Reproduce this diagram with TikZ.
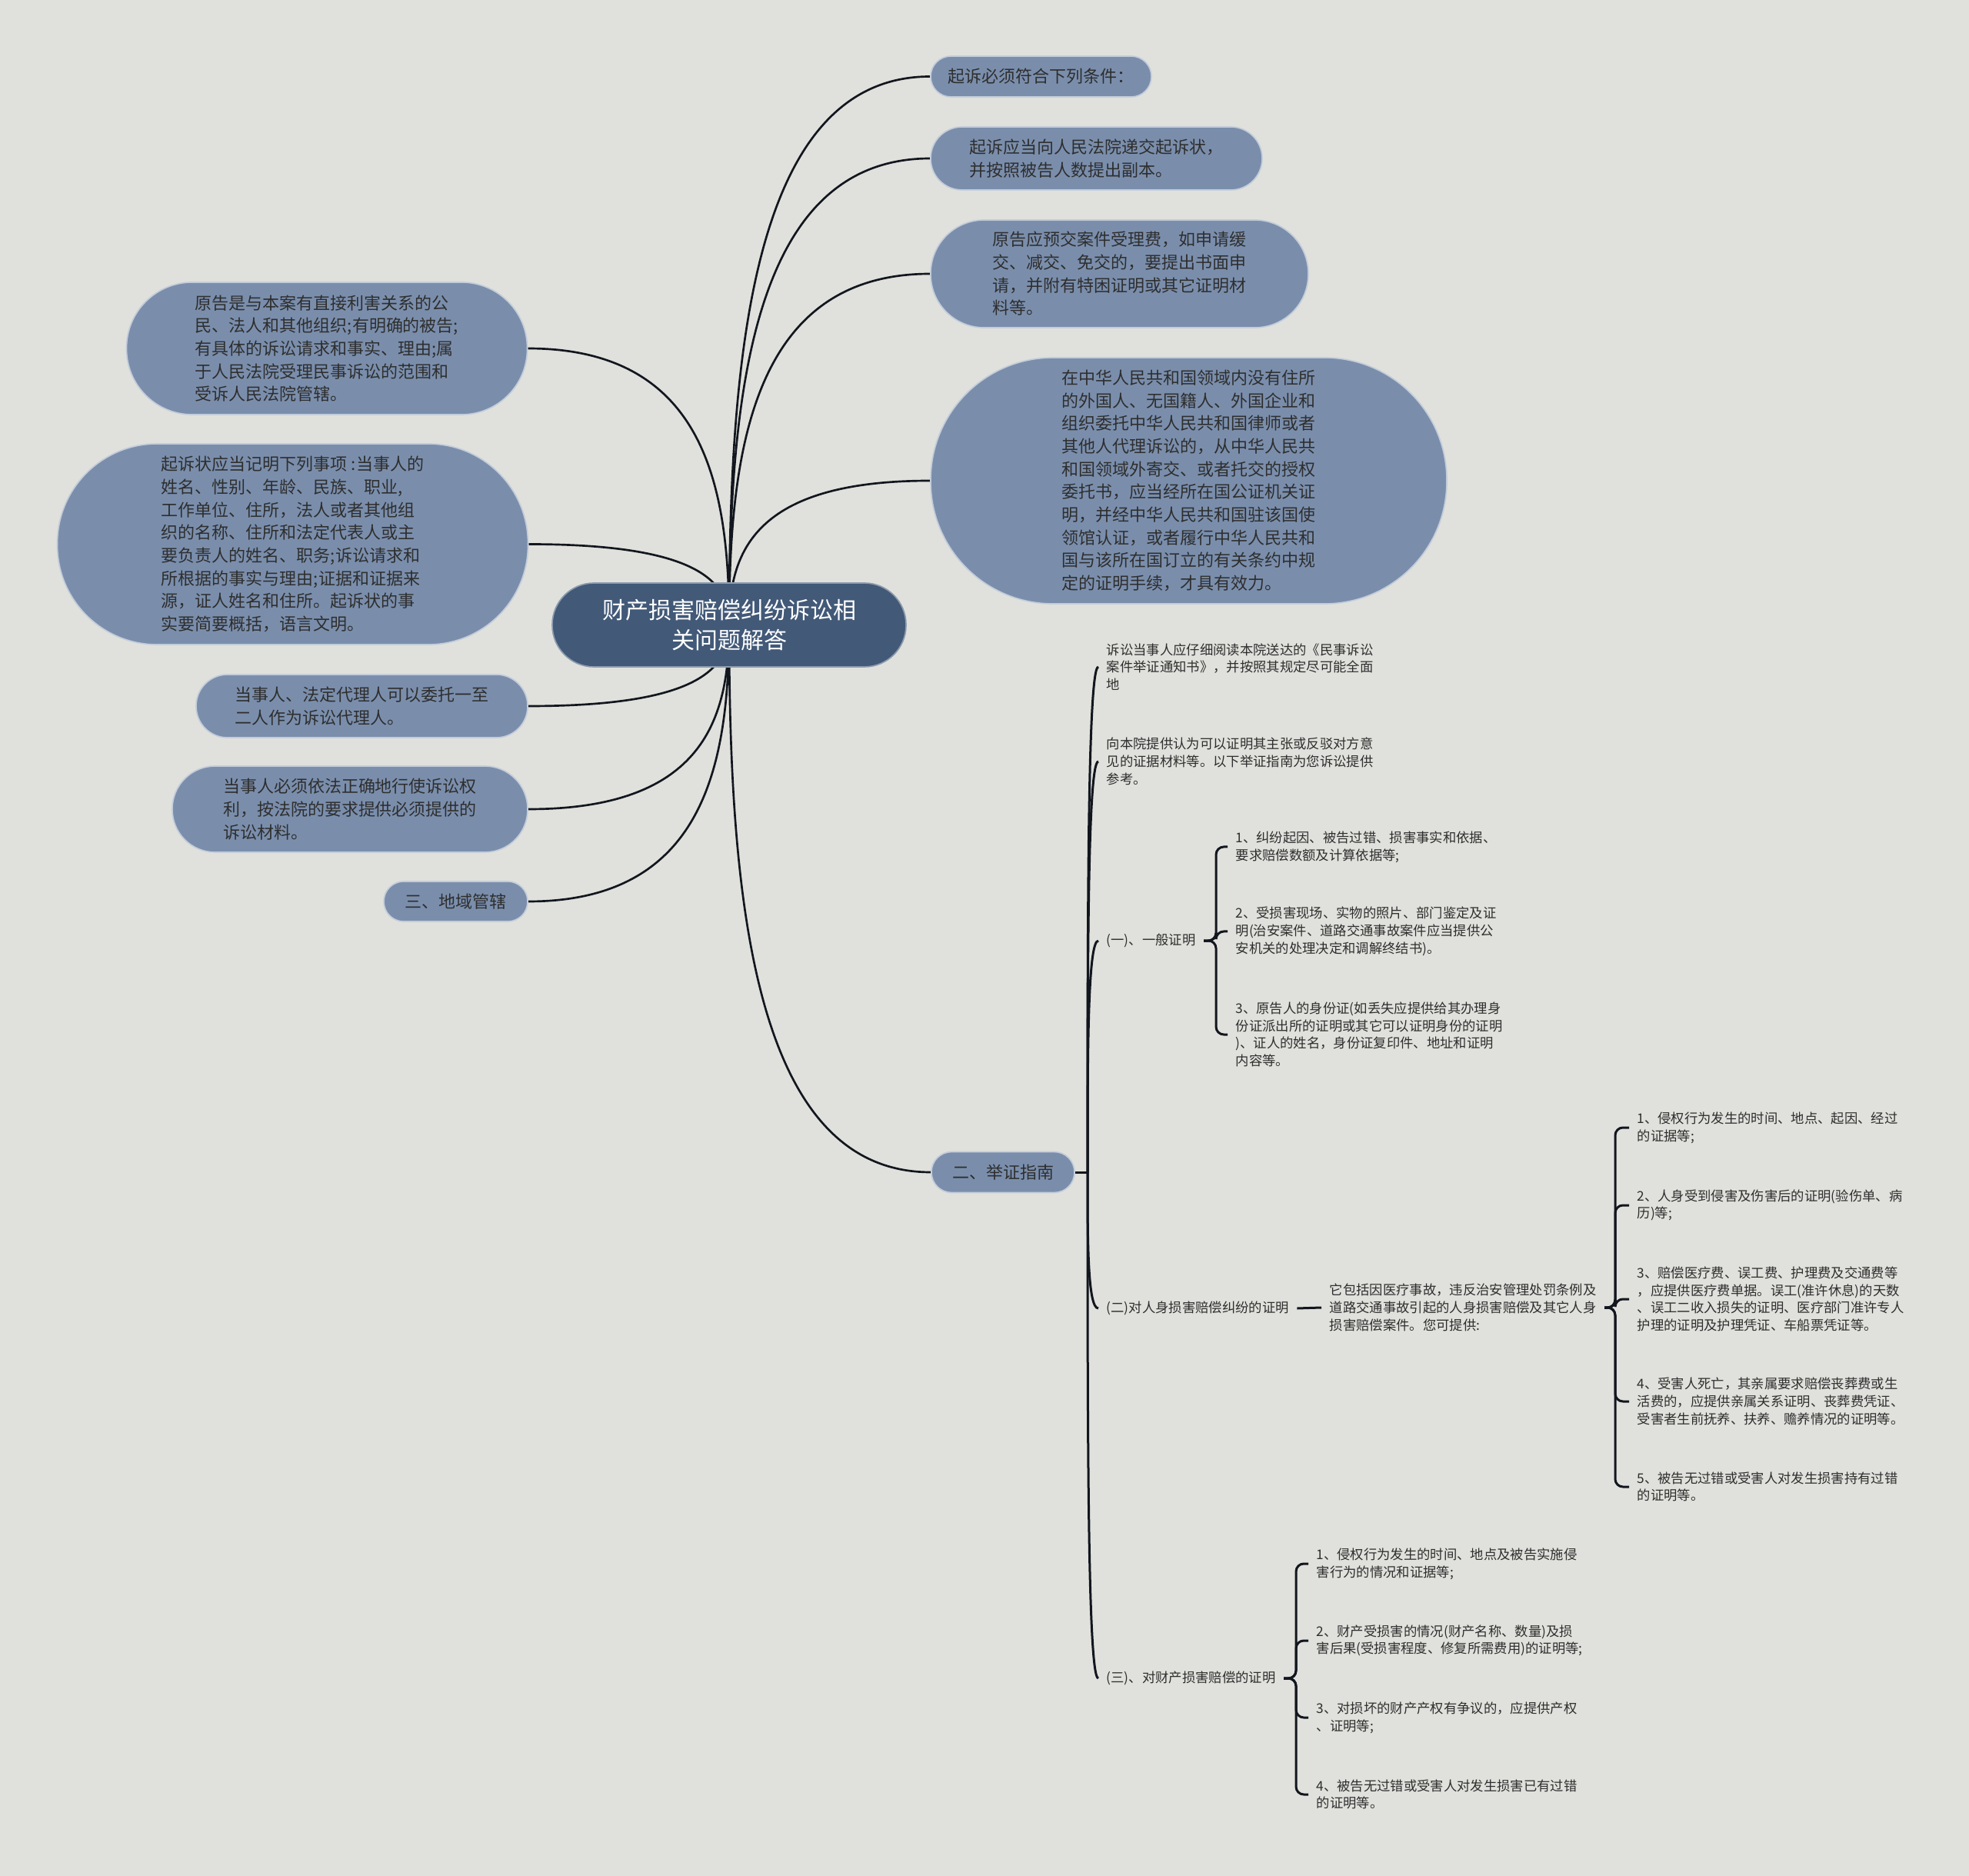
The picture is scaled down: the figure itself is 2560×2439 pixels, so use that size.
\documentclass[tikz,border=0pt]{standalone}
\usepackage{fontspec}
\setmainfont{Noto Sans CJK SC}
\usetikzlibrary{calc,backgrounds}
\definecolor{bg}{HTML}{E0E1DC}
\definecolor{nodeblue}{HTML}{7A8EAC}
\definecolor{rootblue}{HTML}{425978}
\definecolor{txt}{HTML}{2E2E2E}
\definecolor{linec}{HTML}{12161E}
\begin{document}
\begin{tikzpicture}[x=0.3pt,y=-0.3pt,
  pill/.style 2 args={rectangle, rounded corners=#2*0.149pt, minimum width=#1*0.3pt,
    minimum height=#2*0.3pt, inner sep=0pt, fill=nodeblue, draw=white!55!nodeblue,
    line width=0.5pt, align=left, text=txt, font=\fontsize{6.6pt}{8.9pt}\selectfont},
  rootnode/.style={fill=rootblue, draw=white!40!rootblue, text=white, align=center,
    font=\fontsize{9pt}{11.8pt}\selectfont},
  stxt/.style={anchor=west, inner xsep=3pt, inner ysep=1pt, align=left, text=txt,
    font=\fontsize{5.2pt}{6.8pt}\selectfont},
  conn/.style={draw=linec, line width=0.8pt},
  brk/.style={draw=linec, line width=0.9pt, rounded corners=3pt}]

% ---------- main nodes ----------
\node[pill={460}{109}, rootnode] (root) at (948,812.5) {财产损害赔偿纠纷诉讼相\\关问题解答};

\node[pill={287}{53}] (r1) at (1353.5,99.5) {起诉必须符合下列条件：};
\node[pill={431}{82}] (r2) at (1425.5,206) {起诉应当向人民法院递交起诉状，\\并按照被告人数提出副本。};
\node[pill={491}{140}] (r3) at (1455.5,356) {原告应预交案件受理费，如申请缓\\交、减交、免交的，要提出书面申\\请，并附有特困证明或其它证明材\\料等。};
\node[pill={671}{320}] (r4) at (1545.5,625) {在中华人民共和国领域内没有住所\\的外国人、无国籍人、外国企业和\\组织委托中华人民共和国律师或者\\其他人代理诉讼的，从中华人民共\\和国领域外寄交、或者托交的授权\\委托书，应当经所在国公证机关证\\明，并经中华人民共和国驻该国使\\领馆认证，或者履行中华人民共和\\国与该所在国订立的有关条约中规\\定的证明手续，才具有效力。};

\node[pill={521}{172}] (l1) at (425,453) {原告是与本案有直接利害关系的公\\民、法人和其他组织;有明确的被告;\\有具体的诉讼请求和事实、理由;属\\于人民法院受理民事诉讼的范围和\\受诉人民法院管辖。};
\node[pill={612}{261}] (l2) at (380.5,707.5) {起诉状应当记明下列事项 :当事人的\\姓名、性别、年龄、民族、职业,\\工作单位、住所，法人或者其他组\\织的名称、住所和法定代表人或主\\要负责人的姓名、职务;诉讼请求和\\所根据的事实与理由;证据和证据来\\源，证人姓名和住所。起诉状的事\\实要简要概括，语言文明。};
\node[pill={431}{82}] (l3) at (470.5,918) {当事人、法定代理人可以委托一至\\二人作为诉讼代理人。};
\node[pill={462}{112}] (l4) at (455,1052) {当事人必须依法正确地行使诉讼权\\利，按法院的要求提供必须提供的\\诉讼材料。};
\node[pill={187}{52}] (l5) at (592.5,1172) {三、地域管辖};

\node[pill={186}{53}] (jz) at (1304,1524) {二、举证指南};

% ---------- evidence guide subtree ----------
\node[stxt] (t1) at (1428,867) {诉讼当事人应仔细阅读本院送达的《民事诉讼\\案件举证通知书》，并按照其规定尽可能全面\\地};
\node[stxt] (t2) at (1428,990) {向本院提供认为可以证明其主张或反驳对方意\\见的证据材料等。以下举证指南为您诉讼提供\\参考。};
\node[stxt] (t3) at (1428,1223) {(一)、一般证明};
\node[stxt] (t4) at (1428,1701) {(二)对人身损害赔偿纠纷的证明};
\node[stxt] (t5) at (1428,2182) {(三)、对财产损害赔偿的证明};

\node[stxt] (a1) at (1596,1101) {1、纠纷起因、被告过错、损害事实和依据、\\要求赔偿数额及计算依据等;};
\node[stxt] (a2) at (1596,1211) {2、受损害现场、实物的照片、部门鉴定及证\\明(治安案件、道路交通事故案件应当提供公\\安机关的处理决定和调解终结书)。};
\node[stxt] (a3) at (1596,1345) {3、原告人的身份证(如丢失应提供给其办理身\\份证派出所的证明或其它可以证明身份的证明\\)、证人的姓名，身份证复印件、地址和证明\\内容等。};

\node[stxt] (b0) at (1718,1700) {它包括因医疗事故，违反治安管理处罚条例及\\道路交通事故引起的人身损害赔偿及其它人身\\损害赔偿案件。您可提供:};
\node[stxt] (b1) at (2118,1466) {1、侵权行为发生的时间、地点、起因、经过\\的证据等;};
\node[stxt] (b2) at (2118,1567) {2、人身受到侵害及伤害后的证明(验伤单、病\\历)等;};
\node[stxt] (b3) at (2118,1689) {3、赔偿医疗费、误工费、护理费及交通费等\\，应提供医疗费单据。误工(准许休息)的天数\\、误工二收入损失的证明、医疗部门准许专人\\护理的证明及护理凭证、车船票凭证等。};
\node[stxt] (b4) at (2118,1822) {4、受害人死亡，其亲属要求赔偿丧葬费或生\\活费的，应提供亲属关系证明、丧葬费凭证、\\受害者生前抚养、扶养、赡养情况的证明等。};
\node[stxt] (b5) at (2118,1933) {5、被告无过错或受害人对发生损害持有过错\\的证明等。};

\node[stxt] (c1) at (1701,2033) {1、侵权行为发生的时间、地点及被告实施侵\\害行为的情况和证据等;};
\node[stxt] (c2) at (1701,2133) {2、财产受损害的情况(财产名称、数量)及损\\害后果(受损害程度、修复所需费用)的证明等;};
\node[stxt] (c3) at (1701,2233) {3、对损坏的财产产权有争议的，应提供产权\\、证明等;};
\node[stxt] (c4) at (1701,2333) {4、被告无过错或受害人对发生损害已有过错\\的证明等。};

\coordinate (J) at (1414,1524);

% ---------- connectors (behind nodes) ----------
\begin{scope}[on background layer]
  \fill[bg] (0,0) rectangle (2560,2439);
  \foreach \n in {r1,r2,r3,r4,jz}
    \draw[conn] (root.center) .. controls ($(root.center)!0.5!(root.center |- \n.west)$) and ($(root.center |- \n.west)!0.12!(\n.west)$) .. (\n.west);
  \foreach \n in {l1,l2,l3,l4,l5}
    \draw[conn] (root.center) .. controls ($(root.center)!0.5!(root.center |- \n.east)$) and ($(root.center |- \n.east)!0.12!(\n.east)$) .. (\n.east);
  \draw[conn, line width=0.9pt] (jz.east) -- (J);
  \foreach \n in {t1,t2,t3,t4,t5}
    \draw[conn, line width=0.9pt] (J) .. controls ($(J)!0.5!(J |- \n.west)$) and (J |- \n.west) .. (\n.west);
  \foreach \n in {a1,a2,a3}
    \draw[brk] (t3.east) -- ++(16,0) |- (\n.west);
  \draw[brk] (t4.east) -- (b0.west);
  \foreach \n in {b1,b2,b3,b4,b5}
    \draw[brk] (b0.east) -- ++(14,0) |- (\n.west);
  \foreach \n in {c1,c2,c3,c4}
    \draw[brk] (t5.east) -- ++(16,0) |- (\n.west);
\end{scope}
\useasboundingbox (0,0) rectangle (2560,2439);
\end{tikzpicture}
\end{document}
